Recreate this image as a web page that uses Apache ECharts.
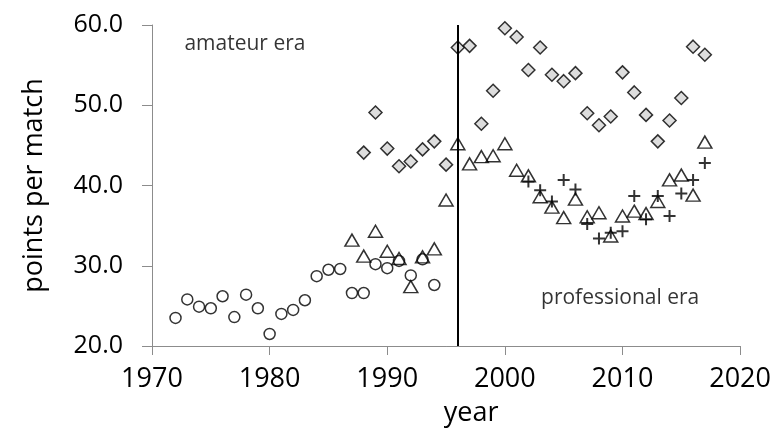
<!DOCTYPE html>
<html>
<head>
<meta charset="utf-8">
<script src="https://cdn.jsdelivr.net/npm/echarts@6/dist/echarts.min.js"></script>
<style>
  html, body { margin: 0; padding: 0; background: #fff; }
  #chart { width: 774px; height: 435px; }
</style>
</head>
<body>
<div id="chart"></div>
<script>
// amateur-era points per match (circles)
var circleYears = [1972,1973,1974,1975,1976,1977,1978,1979,1980,1981,1982,1983,1984,1985,1986,1987,1988,1989,1990,1991,1992,1993,1994];
var circleVals  = [23.5,25.8,24.9,24.7,26.2,23.6,26.4,24.7,21.5,24.0,24.5,25.7,28.7,29.5,29.6,26.6,26.6,30.2,29.7,30.6,28.8,30.8,27.6];

// triangles
var triYears = [1987,1988,1989,1990,1991,1992,1993,1994,1995,1996,1997,1998,1999,2000,2001,2002,2003,2004,2005,2006,2007,2008,2009,2010,2011,2012,2013,2014,2015,2016,2017];
var triVals  = [33.2,31.2,34.3,31.8,30.9,27.4,31.1,32.1,38.2,45.2,42.7,43.6,43.7,45.2,41.9,41.2,38.6,37.3,36.0,38.3,36.1,36.6,33.7,36.2,36.8,36.5,38.0,40.7,41.3,38.8,45.4];

// diamonds
var diaYears = [1988,1989,1990,1991,1992,1993,1994,1995,1996,1997,1998,1999,2000,2001,2002,2003,2004,2005,2006,2007,2008,2009,2010,2011,2012,2013,2014,2015,2016,2017];
var diaVals  = [44.1,49.1,44.6,42.4,43.0,44.5,45.5,42.6,57.2,57.4,47.7,51.8,59.6,58.5,54.4,57.2,53.8,53.0,54.0,49.0,47.5,48.6,54.1,51.6,48.8,45.5,48.1,50.9,57.3,56.3];

// plus markers
var plusYears = [2002,2003,2004,2005,2006,2007,2008,2009,2010,2011,2012,2013,2014,2015,2016,2017];
var plusVals  = [40.5,39.4,38.0,40.7,39.5,35.2,33.4,34.1,34.3,38.7,35.8,38.7,36.2,39.0,40.7,42.8];

var eraYear = 1996;
var notes = [
  { text: 'amateur era', x: 1977.9, y: 57.6 },
  { text: 'professional era', x: 2009.8, y: 26.0 }
];

function pairs(xs, ys) {
  return xs.map(function (x, i) { return [x, ys[i]]; });
}

var plusPath = 'path://M-1,-6L1,-6L1,-1L6,-1L6,1L1,1L1,6L-1,6L-1,1L-6,1L-6,-1L-1,-1Z';
var axisGray = '#8c8c8c';
var font = 'Open Sans, sans-serif';

var myChart = echarts.init(document.getElementById('chart'));
myChart.setOption({
  animation: false,
  grid: { left: 152, right: 30, top: 25, bottom: 89 },
  xAxis: {
    type: 'value',
    min: 1970, max: 2020, interval: 10,
    name: 'year',
    nameLocation: 'middle',
    nameGap: 54,
    nameTextStyle: { color: '#000', fontSize: 27, fontFamily: font, padding: [0, 0, 0, 50] },
    splitLine: { show: false },
    axisLine: { onZero: false, lineStyle: { color: axisGray, width: 1 } },
    axisTick: { show: true, length: 9, lineStyle: { color: axisGray } },
    axisLabel: {
      color: '#000', fontSize: 27, margin: 20, fontFamily: font,
      formatter: function (v) { return String(v); }
    }
  },
  yAxis: {
    type: 'value',
    min: 20, max: 60, interval: 10,
    name: 'points per match',
    nameLocation: 'middle',
    nameGap: 104,
    nameTextStyle: { color: '#000', fontSize: 27, fontFamily: font },
    splitLine: { show: false },
    axisLine: { show: true, lineStyle: { color: axisGray, width: 1 } },
    axisTick: { show: true, inside: false, length: 10, lineStyle: { color: axisGray } },
    axisLabel: {
      color: '#000', fontSize: 25, margin: 29, fontFamily: font,
      formatter: function (v) { return v.toFixed(1); }
    }
  },
  series: [
    {
      type: 'scatter',
      data: pairs(circleYears, circleVals),
      symbol: 'circle',
      symbolSize: 11,
      itemStyle: { color: 'rgba(255,255,255,0)', borderColor: '#000', borderWidth: 1.5 },
      markLine: {
        silent: true,
        symbol: 'none',
        label: { show: false },
        lineStyle: { color: '#000', width: 2, type: 'solid' },
        data: [[{ coord: [eraYear, 20] }, { coord: [eraYear, 60] }]]
      }
    },
    {
      type: 'scatter',
      data: pairs(diaYears, diaVals),
      symbol: 'diamond',
      symbolSize: [13, 13],
      itemStyle: { color: '#d4d4d4', borderColor: '#000', borderWidth: 1.5 }
    },
    {
      type: 'scatter',
      data: pairs(triYears, triVals),
      symbol: 'triangle',
      symbolSize: [14, 12],
      itemStyle: { color: 'rgba(255,255,255,0)', borderColor: '#000', borderWidth: 1.5 }
    },
    {
      type: 'scatter',
      data: pairs(plusYears, plusVals),
      symbol: plusPath,
      symbolSize: 12,
      itemStyle: { color: '#000' }
    },
    {
      type: 'scatter',
      silent: true,
      symbolSize: 0,
      data: notes.map(function (n) { return { value: [n.x, n.y], name: n.text }; }),
      label: {
        show: true,
        position: 'inside',
        formatter: '{b}',
        color: '#000',
        fontSize: 21,
        fontFamily: font
      }
    }
  ]
});
</script>
</body>
</html>
